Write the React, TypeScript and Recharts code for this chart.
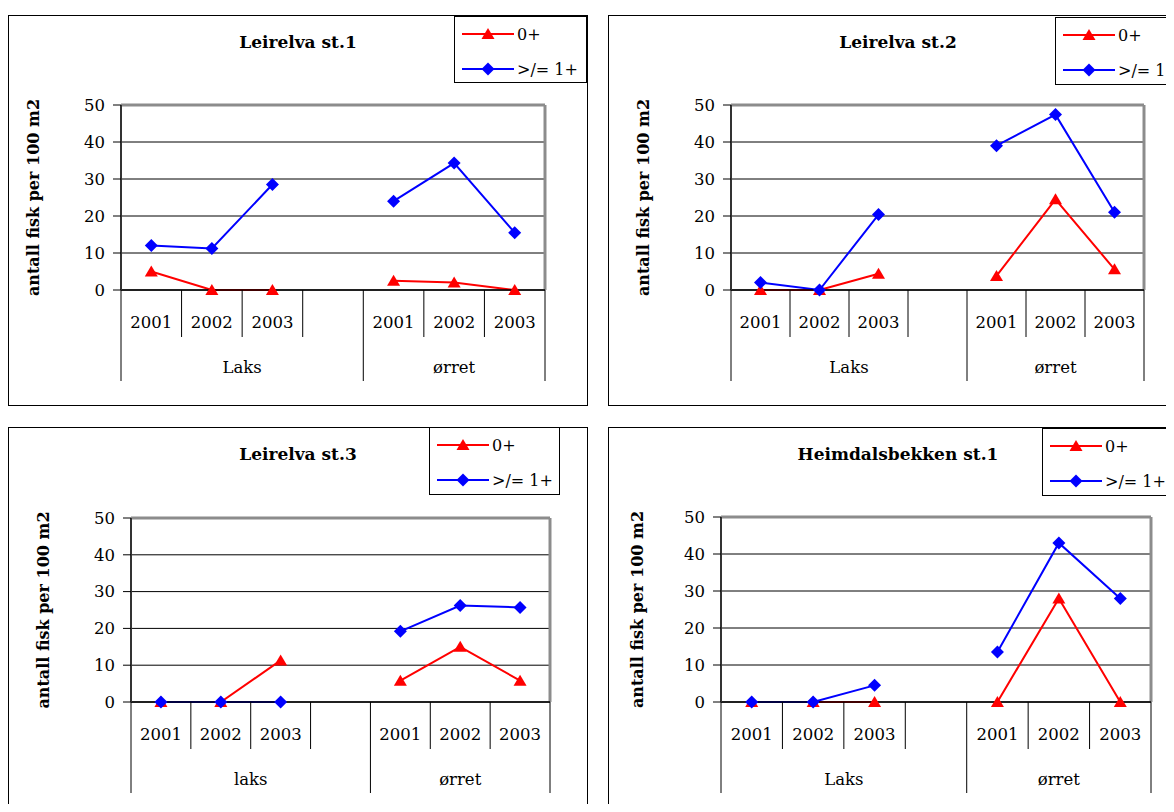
import { LineChart, Line, XAxis, YAxis, CartesianGrid, Legend } from 'recharts';

const SERIF = '"DejaVu Serif", "Liberation Serif", serif';
const FS = 16.5;

// category axis: years inside species groups, with an empty column between groups
const years = ['2001', '2002', '2003', '', '2001', '2002', '2003'];
const speciesUpper = ['Laks', 'Laks', 'Laks', 'Laks', 'ørret', 'ørret', 'ørret'];
const speciesLower = ['laks', 'laks', 'laks', 'laks', 'ørret', 'ørret', 'ørret'];
const yTicks = [0, 10, 20, 30, 40, 50];

// antall fisk per 100 m2 (null = the empty gap column)
const st1Young = [5, 0, 0, null, 2.5, 2, 0];
const st1Older = [12, 11.2, 28.5, null, 24, 34.3, 15.5];
const st2Young = [0, 0, 4.4, null, 3.8, 24.5, 5.6];
const st2Older = [2, 0, 20.4, null, 39, 47.4, 21];
const st3Young = [0, 0, 11.3, null, 5.8, 15, 5.8];
const st3Older = [0, 0, 0, null, 19.2, 26.2, 25.7];
const hbYoung = [0, 0, 0, null, 0, 28, 0];
const hbOlder = [0, 0, 4.5, null, 13.5, 43, 28];

type Row = { slot: string; year: string; species: string; young: number | null; older: number | null };

const buildRows = (young: (number | null)[], older: (number | null)[], species: string[]): Row[] =>
  years.map((year, i) => ({ slot: `s${i}`, year, species: species[i], young: young[i], older: older[i] }));

const W = 580;
const H = 391;
const Y_AXIS_W = 80;
const X_AXIS_H = 100;

const panels = [
  {
    title: 'Leirelva st.1', rows: buildRows(st1Young, st1Older, speciesUpper),
    left: 0, top: 7, margin: { top: 90, right: 43, bottom: 16, left: 33 }, labelX: 25,
    legend: { left: 446, top: 1, width: 133, height: 67 },
  },
  {
    title: 'Leirelva st.2', rows: buildRows(st2Young, st2Older, speciesUpper),
    left: 600, top: 7, margin: { top: 90, right: 44, bottom: 16, left: 43 }, labelX: 35,
    legend: { left: 447, top: 2, width: 133, height: 68 },
  },
  {
    title: 'Leirelva st.3', rows: buildRows(st3Young, st3Older, speciesLower),
    left: 0, top: 419, margin: { top: 91, right: 38, bottom: 16, left: 43 }, labelX: 35,
    legend: { left: 421, top: 0, width: 131, height: 68 },
  },
  {
    title: 'Heimdalsbekken st.1', rows: buildRows(hbYoung, hbOlder, speciesUpper),
    left: 600, top: 419, margin: { top: 90, right: 37, bottom: 16, left: 33 }, labelX: 29,
    legend: { left: 434, top: 1, width: 131, height: 68 },
  },
];

const Triangle = (props: any) => {
  const { cx, cy, fill } = props;
  if (cx == null || cy == null) return <g />;
  return <polygon points={`${cx},${cy - 6} ${cx + 6.5},${cy + 5} ${cx - 6.5},${cy + 5}`} fill={fill} />;
};

const Diamond = (props: any) => {
  const { cx, cy, fill } = props;
  if (cx == null || cy == null) return <g />;
  return <polygon points={`${cx},${cy - 6.5} ${cx + 6.5},${cy} ${cx},${cy + 6.5} ${cx - 6.5},${cy}`} fill={fill} />;
};

const CategoryTick = (props: any) => {
  const { x, y, index, band, rows } = props;
  const half = band / 2;
  const row: Row = rows[index];
  if (!row) return <g />;
  const next: Row | undefined = rows[index + 1];
  const prev: Row | undefined = rows[index - 1];
  const groupEnd = !next || next.species !== row.species;
  const groupStart = !prev || prev.species !== row.species;
  const count = rows.filter((r: Row) => r.species === row.species).length;
  const textStyle = { fontFamily: SERIF, fontSize: FS, fill: '#000' };
  return (
    <g>
      {index === 0 && <line x1={x - half} x2={x - half} y1={y} y2={y + 91} stroke="#000" />}
      <line x1={x + half} x2={x + half} y1={y} y2={groupEnd ? y + 91 : y + 47} stroke="#000" />
      <text x={x} y={y + 32} textAnchor="middle" dominantBaseline="central" style={textStyle}>{row.year}</text>
      {groupStart && (
        <text x={x - half + (count * band) / 2} y={y + 77} textAnchor="middle" dominantBaseline="central" style={textStyle}>
          {row.species}
        </text>
      )}
    </g>
  );
};

const AxisTitle = (props: any) => {
  const { viewBox, cx } = props;
  const cy = viewBox.y + viewBox.height / 2;
  return (
    <text
      x={cx}
      y={cy}
      transform={`rotate(-90 ${cx} ${cy})`}
      textAnchor="middle"
      dominantBaseline="central"
      style={{ fontFamily: SERIF, fontWeight: 'bold', fontSize: 16, fill: '#000' }}
    >
      antall fisk per 100 m2
    </text>
  );
};

const LegendBox = ({ payload }: any) => (
  <div style={{ width: '100%', height: '100%', boxSizing: 'border-box', border: '1px solid #000', background: '#fff', position: 'relative' }}>
    {(payload || []).map((entry: any, i: number) => (
      <div key={entry.value} style={{ position: 'absolute', left: 6, top: 17 + i * 35 - 11, height: 22, display: 'flex', alignItems: 'center' }}>
        <svg width={54} height={22}>
          <line x1={1} x2={53} y1={11} y2={11} stroke={entry.color} strokeWidth={2} />
          {i === 0 ? <Triangle cx={27} cy={11} fill={entry.color} /> : <Diamond cx={27} cy={11} fill={entry.color} />}
        </svg>
        <span style={{ fontFamily: SERIF, fontSize: 16, color: '#000', marginLeft: 2, whiteSpace: 'nowrap' }}>{entry.value}</span>
      </div>
    ))}
  </div>
);

const Panel = ({ p }: { p: (typeof panels)[number] }) => {
  const band = (W - p.margin.left - Y_AXIS_W - p.margin.right) / years.length;
  return (
    <div style={{ position: 'absolute', left: p.left, top: p.top, width: W, height: H }}>
      <LineChart width={W} height={H} data={p.rows} margin={p.margin}>
        <CartesianGrid vertical={false} stroke="#000" />
        <CartesianGrid
          horizontalCoordinatesGenerator={({ offset }: any) => [offset.top]}
          verticalCoordinatesGenerator={({ offset }: any) => [offset.left + offset.width]}
          stroke="#8c8c8c"
          strokeWidth={3}
        />
        <XAxis
          dataKey="slot"
          scale="band"
          interval={0}
          height={X_AXIS_H}
          tickSize={0}
          tickMargin={0}
          tickLine={false}
          axisLine={{ stroke: '#000', strokeWidth: 1.5 }}
          tick={(t: any) => <CategoryTick {...t} band={band} rows={p.rows} />}
        />
        <YAxis
          width={Y_AXIS_W}
          domain={[0, 50]}
          ticks={yTicks}
          tickSize={8}
          tickMargin={8}
          tickLine={{ stroke: '#000' }}
          axisLine={{ stroke: '#333', strokeWidth: 2 }}
          tick={{ fontFamily: SERIF, fontSize: FS, fill: '#000' }}
          label={<AxisTitle cx={p.labelX} />}
        />
        <Legend
          layout="vertical"
          align="center"
          verticalAlign="middle"
          width={p.legend.width}
          height={p.legend.height}
          wrapperStyle={{ left: p.legend.left, top: p.legend.top, width: p.legend.width, height: p.legend.height }}
          content={<LegendBox />}
        />
        <Line
          dataKey="young"
          name="0+"
          stroke="#ff0000"
          fill="#ff0000"
          strokeWidth={2}
          dot={<Triangle />}
          activeDot={false}
          isAnimationActive={false}
        />
        <Line
          dataKey="older"
          name=">/= 1+"
          stroke="#0000ff"
          fill="#0000ff"
          strokeWidth={2}
          dot={<Diamond />}
          activeDot={false}
          isAnimationActive={false}
        />
      </LineChart>
      <div
        style={{
          position: 'absolute', left: 0, top: 0, width: W, textAlign: 'center', lineHeight: '54px',
          fontFamily: SERIF, fontWeight: 'bold', fontSize: 17, color: '#000', pointerEvents: 'none',
        }}
      >
        {p.title}
      </div>
      <div style={{ position: 'absolute', inset: 0, border: '1px solid #000', pointerEvents: 'none' }} />
    </div>
  );
};

export default function App() {
  return (
    <div style={{ position: 'relative', width: 1166, height: 804, marginBottom: -8, overflow: 'hidden', background: '#fff' }}>
      {panels.map((p) => (
        <Panel key={p.title} p={p} />
      ))}
    </div>
  );
}
